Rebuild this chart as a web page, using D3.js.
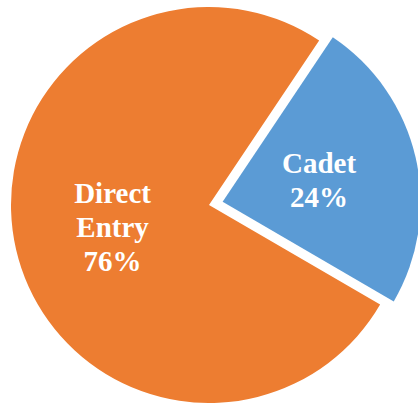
<!DOCTYPE html>
<html>
<head>
<meta charset="utf-8">
<script src="https://cdn.jsdelivr.net/npm/d3@7"></script>
<style>
  html, body { margin: 0; padding: 0; background: #ffffff; overflow: hidden; }
  svg { display: block; }
</style>
</head>
<body>
<script>
// Data
const categories = ["Cadet", "Direct Entry"];
const values = [24, 76];
const percentLabels = ["24%", "76%"];
const colors = ["#5B9BD5", "#ED7D31"];
const exploded = [true, false];

const width = 418, height = 403;
const cx = 209, cy = 205, radius = 198;
const explodeDist = 14;
const startDeg = 33.8;

const svg = d3.select("body").append("svg")
  .attr("width", width).attr("height", height);

const pie = d3.pie().sort(null).value(d => d.value)
  .startAngle(startDeg * Math.PI / 180)
  .endAngle(startDeg * Math.PI / 180 + 2 * Math.PI);

const data = categories.map((c, i) => ({ name: c, value: values[i], pct: percentLabels[i], color: colors[i], explode: exploded[i] }));
const arcs = pie(data);
const arc = d3.arc().innerRadius(0).outerRadius(radius);

const g = svg.append("g").attr("transform", `translate(${cx},${cy})`);

const slice = g.selectAll("g.slice").data(arcs).enter().append("g")
  .attr("class", "slice")
  .attr("transform", d => {
    if (!d.data.explode) return null;
    const mid = (d.startAngle + d.endAngle) / 2;
    return `translate(${Math.sin(mid) * explodeDist},${-Math.cos(mid) * explodeDist})`;
  });

slice.append("path")
  .attr("d", arc)
  .attr("fill", d => d.data.color);

const lineH = 34;
slice.append("text")
  .attr("text-anchor", "middle")
  .attr("fill", "#ffffff")
  .style("font-family", "'Liberation Serif', 'DejaVu Serif', serif")
  .style("font-weight", "bold")
  .style("font-size", "29px")
  .each(function(d) {
    const mid = (d.startAngle + d.endAngle) / 2;
    const r = radius * 0.5;
    const x = Math.sin(mid) * r, y = -Math.cos(mid) * r;
    const lines = d.data.name.split(" ").concat([d.data.pct]);
    const n = lines.length;
    const t = d3.select(this);
    lines.forEach((ln, i) => {
      t.append("tspan")
        .attr("x", x)
        .attr("y", y + (i - (n - 1) / 2) * lineH + 10)
        .text(ln);
    });
  });
</script>
</body>
</html>
